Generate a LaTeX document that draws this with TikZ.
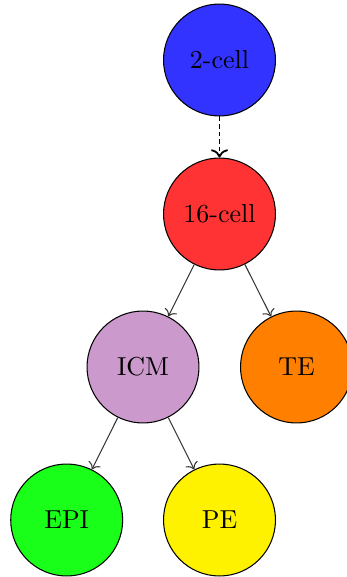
\documentclass[tikz,border=0pt]{standalone}
\usetikzlibrary{arrows.meta}
\begin{document}
\begin{tikzpicture}[x=0.385pt,y=-0.385pt,
  cell/.style={circle,draw=black,minimum size=43.1pt,inner sep=0pt},
  link/.style={->,draw=black!80}]
\useasboundingbox (0,0) rectangle (346,577);
\node[cell,fill=blue!80]   (c2)  at (219.5,60)  {2-cell};
\node[cell,fill=red!80]    (c16) at (219.5,214) {16-cell};
\node[cell,fill=violet!40] (icm) at (143,367)   {ICM};
\node[cell,fill=orange]    (te)  at (296.5,367) {TE};
\node[cell,fill=green!90]  (epi) at (66.7,520)  {EPI};
\node[cell,fill=yellow]    (pe)  at (219.5,520) {PE};
\draw[->,line width=0.7pt,dash pattern=on 1.8pt off 1.1pt] (c2) -- (c16);
\draw[link] (c16) -- (icm);
\draw[link] (c16) -- (te);
\draw[link] (icm) -- (epi);
\draw[link] (icm) -- (pe);
\end{tikzpicture}
\end{document}
